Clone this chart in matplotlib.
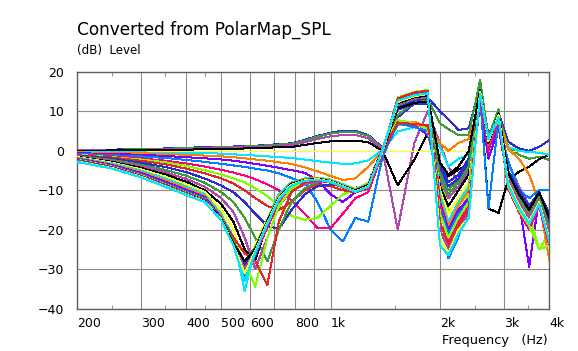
import matplotlib.pyplot as plt

# frequency points (Hz) shared by all curves
freq = [200, 250, 300, 350, 400, 450, 500, 540, 580, 620, 670, 720, 780, 850, 920,
        1000, 1080, 1170, 1270, 1390, 1530, 1700, 1850, 2000, 2110, 2250, 2400,
        2580, 2720, 2900, 3080, 3300, 3520, 3750, 4000]

# level curves (dB), top to bottom at 450 Hz
c00 = [0.2, 0.3, 0.5, 0.6, 0.8, 0.9, 1.0, 1.1, 1.2, 1.3, 1.5, 1.7, 1.9, 2.8, 3.8, 4.6, 5.1, 5.1, 4.0, 0.8, 8.5, 12.0, 13.6, 10.0, 8.0, 5.3, 5.7, 16.5, 4.0, 9.6, 2.3, 0.6, 0.0, 1.0, 2.7]
c01 = [0.2, 0.3, 0.4, 0.5, 0.7, 0.8, 0.9, 1.0, 1.1, 1.2, 1.4, 1.6, 1.8, 2.6, 3.6, 4.4, 4.8, 4.8, 3.8, 0.6, 9.0, 12.5, 13.0, 7.0, 5.5, 4.0, 4.0, 18.0, 3.0, 9.0, 1.0, -1.0, -2.0, -1.5, -2.3]
c02 = [0.1, 0.2, 0.3, 0.4, 0.5, 0.6, 0.7, 0.8, 0.9, 1.0, 1.1, 1.3, 1.5, 2.2, 3.0, 3.7, 4.0, 4.0, 3.2, 0.3, -20.0, 2.0, 10.0, 2.0, -4.0, -8.0, -6.0, 15.0, 1.5, 8.5, -3.0, -9.0, -14.0, -11.0, -19.0]
c03 = [0.0, 0.1, 0.2, 0.3, 0.3, 0.4, 0.4, 0.5, 0.6, 0.7, 0.8, 0.9, 1.0, 1.5, 2.0, 2.4, 2.6, 2.6, 2.2, 0.0, -8.7, -2.3, 4.5, -3.0, -6.5, -4.7, -3.4, 15.0, -14.6, -15.8, -7.4, -5.3, -4.0, -2.1, -1.0]
c04 = [0.0, 0.0, 0.0, 0.0, 0.0, 0.0, 0.0, 0.0, 0.0, 0.0, 0.0, 0.0, 0.0, 0.0, 0.0, 0.0, 0.0, 0.0, 0.0, 0.0, 0.0, 0.0, 0.0, 0.0, 0.0, 0.0, 0.0, 0.0, 0.0, 0.0, 0.0, 0.0, 0.0, 0.0, 0.0]
c05 = [-0.3, -0.3, -0.4, -0.5, -0.5, -0.6, -0.7, -0.9, -1.0, -1.2, -1.4, -1.6, -1.8, -2.2, -2.6, -3.0, -3.3, -3.2, -2.4, 0.2, 4.9, 6.0, 5.0, 1.0, -4.0, -2.0, -1.0, 13.0, 3.0, 8.0, 1.0, 0.0, -0.3, -0.5, -1.0]
c06 = [-0.4, -0.5, -0.6, -0.8, -1.0, -1.2, -1.4, -1.6, -1.9, -2.2, -2.5, -2.9, -3.3, -4.2, -5.2, -6.4, -7.4, -7.0, -4.0, 0.0, 6.5, 7.4, 6.0, 2.0, 0.0, 2.0, 3.0, 12.0, 3.5, 8.5, 0.5, -2.0, -6.0, -13.0, -16.0]
c07 = [-0.6, -0.8, -1.0, -1.3, -1.6, -1.9, -2.2, -2.5, -2.9, -3.3, -3.8, -4.3, -4.9, -5.6, -7.5, -11.0, -13.0, -10.5, -8.0, -1.0, 6.8, 6.5, 4.0, -5.0, -19.0, -16.0, -12.0, 12.0, -2.0, 6.0, -8.0, -13.0, -29.4, -12.0, -16.0]
c08 = [-0.8, -1.1, -1.4, -1.8, -2.3, -2.8, -3.3, -3.7, -4.1, -4.5, -5.0, -5.7, -6.9, -8.2, -13.0, -20.0, -23.0, -17.0, -18.0, -1.5, 7.0, 6.0, 5.0, -10.0, -27.3, -21.8, -12.0, 12.5, 1.0, 7.0, -2.5, -10.0, -12.0, -10.0, -10.0]
c09 = [-1.0, -1.4, -1.9, -2.5, -3.2, -4.0, -4.8, -5.5, -6.3, -7.2, -8.5, -10.0, -12.5, -16.0, -19.6, -19.6, -16.0, -12.0, -10.5, -0.5, 7.5, 6.5, 6.0, -8.0, -25.4, -20.0, -14.0, 14.0, 0.0, 8.0, -8.0, -13.0, -18.0, -13.0, -22.0]
c10 = [-1.0, -1.6, -2.2, -2.9, -3.8, -4.9, -6.0, -7.0, -8.0, -9.5, -11.5, -14.0, -16.5, -17.5, -17.0, -14.0, -11.0, -10.0, -9.0, 0.5, 7.8, 7.0, 5.5, -6.0, -15.0, -18.0, -10.0, 16.0, 2.0, 9.0, -6.0, -12.0, -16.0, -25.0, -21.0]
c11 = [-1.1, -1.7, -2.5, -3.4, -4.5, -5.7, -7.0, -8.3, -10.0, -12.0, -14.0, -15.0, -13.0, -10.0, -8.5, -9.0, -10.0, -10.5, -9.5, 0.0, 7.2, 6.8, 6.5, -9.0, -22.0, -17.0, -13.0, 15.0, 1.0, 9.5, -7.0, -11.0, -17.0, -12.0, -24.0]
c12 = [-1.2, -2.0, -3.0, -4.1, -5.4, -7.0, -8.8, -10.5, -13.0, -16.0, -19.0, -19.9, -15.0, -11.0, -9.0, -8.5, -9.0, -9.5, -8.0, 0.5, 10.4, 12.0, 12.0, -3.0, -8.0, -6.0, -2.0, 16.0, 3.0, 10.0, -5.0, -10.0, -14.0, -10.5, -16.0]
c13 = [-1.3, -2.3, -3.5, -4.8, -6.3, -8.1, -10.5, -13.0, -17.0, -22.0, -28.0, -20.0, -13.0, -9.5, -8.0, -8.0, -8.8, -9.6, -8.5, 0.2, 11.0, 12.5, 12.8, -5.0, -10.0, -7.0, -3.0, 17.0, 3.5, 10.5, -5.5, -11.0, -15.0, -11.0, -17.0]
c14 = [-1.4, -2.6, -3.9, -5.4, -7.1, -9.1, -12.0, -15.5, -22.0, -30.0, -22.0, -14.0, -10.0, -8.5, -7.8, -8.0, -9.0, -9.8, -9.0, 0.0, 11.5, 13.0, 13.2, -7.0, -12.0, -9.0, -5.0, 16.5, 2.5, 10.0, -6.0, -12.0, -16.0, -11.5, -18.0]
c15 = [-1.5, -2.8, -4.3, -6.0, -7.8, -10.0, -13.5, -18.0, -25.0, -27.7, -18.5, -12.0, -8.5, -7.5, -7.2, -7.6, -8.6, -9.5, -8.2, -0.2, 10.8, 12.2, 12.5, -9.0, -14.0, -10.0, -6.0, 15.5, 2.0, 9.5, -6.5, -12.5, -16.5, -12.0, -19.0]
c16 = [-1.6, -3.0, -4.7, -6.5, -8.5, -10.4, -15.0, -20.0, -30.0, -24.0, -17.0, -11.5, -8.2, -7.2, -6.8, -7.2, -8.4, -9.6, -8.0, 0.0, 12.0, 13.5, 14.0, -10.0, -16.0, -12.0, -8.0, 15.0, 1.5, 9.0, -7.0, -13.0, -17.0, -12.0, -20.0]
c17 = [-1.7, -3.2, -5.0, -7.0, -9.0, -11.0, -16.0, -22.0, -35.5, -25.0, -17.5, -11.0, -8.0, -7.0, -6.8, -7.3, -8.5, -9.7, -8.3, 0.3, 12.3, 13.8, 14.3, -11.0, -18.0, -13.0, -9.0, 15.0, 3.0, 9.5, -7.5, -13.5, -17.5, -12.5, -21.0]
c18 = [-1.8, -3.4, -5.3, -7.4, -9.5, -11.4, -16.5, -23.0, -33.0, -25.5, -18.0, -11.5, -8.2, -7.1, -6.9, -7.5, -8.7, -9.9, -8.5, 0.5, 12.5, 14.0, 14.6, -12.0, -19.0, -14.0, -10.0, 14.5, 2.5, 9.0, -8.0, -14.0, -18.0, -13.0, -27.7]
c19 = [-1.9, -3.6, -5.6, -7.8, -9.9, -11.7, -17.0, -23.5, -31.0, -26.0, -18.5, -12.0, -8.5, -7.3, -7.0, -7.6, -8.8, -10.0, -8.7, 0.1, 12.8, 14.2, 14.8, -13.0, -20.0, -15.0, -12.0, 14.0, 1.0, 8.5, -8.5, -14.5, -19.0, -14.0, -22.0]
c20 = [-2.0, -3.8, -5.9, -8.2, -10.3, -12.0, -17.3, -24.0, -32.0, -26.5, -19.0, -12.5, -8.8, -7.5, -7.2, -7.8, -9.0, -10.2, -9.0, -0.3, 13.0, 14.5, 15.0, -14.0, -21.0, -16.0, -13.0, 13.5, -14.6, 8.0, -9.0, -15.0, -19.5, -13.5, -23.0]
c21 = [-2.1, -3.9, -6.1, -8.4, -10.5, -12.2, -17.5, -24.0, -30.0, -26.0, -19.5, -13.0, -9.0, -7.6, -7.3, -7.9, -9.1, -10.3, -9.2, -0.5, 13.2, 14.7, 15.2, -15.0, -23.0, -18.0, -14.0, 13.0, 0.5, 7.8, -9.5, -15.5, -20.0, -14.0, -24.0]
c22 = [-2.2, -4.0, -6.2, -8.5, -10.6, -12.3, -17.5, -23.0, -28.0, -34.5, -22.0, -14.0, -9.5, -7.8, -7.4, -8.0, -9.2, -10.4, -9.4, -0.2, 13.5, 15.0, 15.4, -16.0, -22.0, -17.0, -13.0, 17.5, 1.5, 8.5, -9.0, -15.0, -19.0, -25.0, -24.0]
c23 = [-2.3, -4.1, -6.3, -8.6, -10.7, -12.4, -17.0, -22.0, -26.0, -28.0, -34.0, -18.0, -10.5, -8.0, -7.5, -8.1, -9.3, -10.5, -9.6, 0.0, 13.3, 14.8, 15.3, -18.0, -24.0, -19.0, -15.0, 16.0, 1.0, 9.0, -8.5, -14.5, -18.5, -13.0, -23.0]
c24 = [-2.4, -4.2, -6.4, -8.7, -10.8, -12.5, -17.0, -23.0, -29.0, -25.0, -18.0, -12.0, -8.5, -7.4, -7.1, -7.7, -8.9, -10.1, -8.8, 0.4, 11.3, 12.8, 13.3, -4.0, -9.0, -7.0, -3.0, 15.0, 2.0, 9.5, -6.0, -11.5, -15.5, -11.0, -18.0]
c25 = [-2.5, -4.3, -6.5, -8.8, -10.9, -12.6, -17.2, -23.0, -28.0, -24.5, -17.5, -11.8, -8.3, -7.3, -7.0, -7.6, -8.8, -10.0, -8.6, 0.3, 11.6, 13.2, 13.6, -6.0, -11.0, -8.0, -4.0, 17.5, 2.5, 10.0, -6.5, -12.0, -16.0, -11.5, -19.5]
c26 = [-2.6, -4.3, -6.5, -8.9, -11.0, -12.7, -17.3, -23.5, -30.0, -25.5, -18.0, -12.2, -8.6, -7.5, -7.2, -7.8, -9.0, -10.2, -8.9, 0.0, 11.9, 13.3, 13.8, -20.0, -25.0, -20.0, -16.0, 15.5, 1.5, 9.0, -7.0, -13.0, -17.0, -12.5, -21.0]
c27 = [-2.7, -4.4, -6.6, -9.0, -11.1, -12.8, -17.4, -23.5, -28.0, -25.0, -17.8, -12.0, -8.4, -7.4, -7.1, -7.7, -8.9, -10.1, -8.7, 0.2, 12.1, 13.6, 14.0, -3.0, -6.0, -4.0, 0.0, 15.5, 2.0, 9.5, -5.5, -11.0, -15.0, -10.5, -17.0]
c28 = [-2.7, -4.4, -6.6, -9.0, -11.1, -12.9, -17.5, -24.0, -31.0, -25.5, -18.2, -12.2, -8.6, -7.5, -7.2, -7.8, -9.0, -10.3, -9.0, 0.1, 12.4, 13.9, 14.4, -22.0, -26.0, -20.0, -17.0, 15.0, 2.5, 9.0, -8.0, -14.0, -18.0, -13.0, -22.5]
c29 = [-2.8, -4.5, -6.7, -9.1, -11.2, -13.0, -17.6, -24.0, -33.0, -25.8, -18.4, -12.4, -8.8, -7.6, -7.3, -7.9, -9.1, -10.4, -9.1, 0.2, 12.7, 14.1, 14.6, -24.0, -26.5, -21.0, -17.0, 14.5, 3.0, 8.5, -8.5, -14.5, -18.5, -13.5, -23.0]

curves = [c00, c01, c02, c03, c04, c05, c06, c07, c08, c09, c10, c11, c12, c13, c14,
          c15, c16, c17, c18, c19, c20, c21, c22, c23, c24, c25, c26, c27, c28, c29]

# the program cycles through 12 colours
colors = ['#2c2cd4', '#3c9c3c', '#b048b0', '#000000', '#ffff20', '#00e8ff',
          '#ff8000', '#8000ff', '#0080ff', '#ff0080', '#80ff00', '#e02828']

xticks = [200, 300, 400, 500, 600, 700, 800, 900, 1000, 2000, 3000, 4000]
xlabels = ['200', '300', '400', '500', '600', '', '800', '', '1k', '2k', '3k', '4k']
xminor = [250, 350, 450, 1500, 2500, 3500]
yticks = [-40, -30, -20, -10, 0, 10, 20]

W, H = 578, 351
fig = plt.figure(figsize=(W / 100, H / 100), dpi=100)
ax = fig.add_axes([76.7 / W, (H - 308.5) / H, (549.3 - 76.7) / W, (308.5 - 72) / H])

for i, c in enumerate(curves):
    ax.plot(freq, c, color=colors[i % 12], lw=0.72, antialiased=False, zorder=3)

ax.set_xscale('log')
ax.set_xlim(200, 4000)
ax.set_ylim(-40, 20)

ax.set_xticks(xticks)
ax.set_xticklabels(xlabels, ha='left')
ax.set_xticks(xminor, minor=True)
ax.set_yticks(yticks)
ax.tick_params(axis='x', which='major', length=0, pad=6, labelsize=9)
ax.tick_params(axis='x', which='minor', length=3, direction='in', top=True,
               color='#808080', labelbottom=False)
ax.tick_params(axis='y', length=0, pad=9, labelsize=9)

ax.grid(True, which='major', color='#8c8c8c', lw=0.8, zorder=0)
for s in ax.spines.values():
    s.set_color('#606060')
    s.set_linewidth(1.0)

fig.text(77 / W, 1 - 34.3 / H, 'Converted from PolarMap_SPL', fontsize=12.2, va='baseline')
fig.text(77 / W, 1 - 54.3 / H, '(dB)  Level', fontsize=8.6, va='baseline')
fig.text(442 / W, 1 - 344 / H, 'Frequency   (Hz)', fontsize=9.3, va='baseline')

fig.savefig('out.png', dpi=100)
